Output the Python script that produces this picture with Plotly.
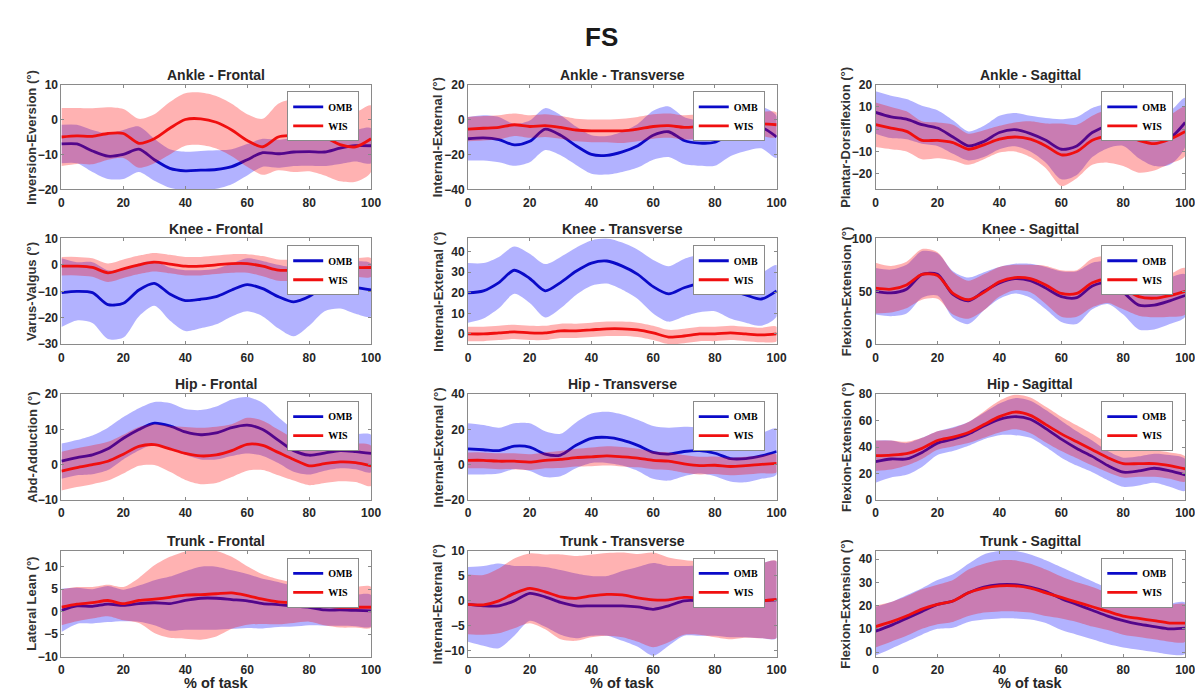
import plotly.graph_objects as go

W, H = 1203, 693
x_pct = list(range(0, 101, 5))

# ---------------- data (mean and SD at every 5 % of task) ----------------
# Ankle - Frontal
af_omb_mean = [-7, -7, -9, -10.5, -10, -8.5, -11.5, -14, -14.7, -14.5, -14.3, -13.5, -11.5, -9.5, -9.8, -9.3, -9.2, -9.3, -8.2, -7.5, -7.5]
af_omb_sd = [5.5, 5.5, 6, 6.5, 7, 6.5, 6, 5.5, 5.5, 5.5, 5.5, 5, 4.5, 4, 4, 4, 4, 4, 4.5, 4.5, 5]
af_wis_mean = [-5, -4.7, -4.8, -4, -4, -6.8, -5.5, -2.5, 0, 0.2, -0.8, -3, -6, -7.8, -5, -4.5, -3.8, -5, -7.2, -7.8, -5.5]
af_wis_sd = [8.3, 8, 8, 7.5, 7, 7, 7, 7.5, 7.5, 7.5, 7.5, 7.5, 7.5, 8, 9.5, 10.5, 11, 11, 10.5, 10, 9.5]
# Ankle - Transverse
at_omb_mean = [-11, -10.5, -11.5, -14.5, -12.5, -5.5, -9, -15, -20, -20.5, -18.5, -15, -9, -7, -12, -13.5, -13, -8, -5.5, -4.5, -10]
at_omb_sd = [12.5, 13, 13, 12, 12, 12, 11.5, 11, 11, 11, 11.5, 12.5, 14, 14.5, 13.5, 13, 13.5, 13, 12.5, 12, 12]
at_wis_mean = [-5.5, -5, -4.5, -3, -4, -3.5, -4.5, -6, -6.5, -6.5, -6.5, -5.5, -4, -3.5, -4.5, -4, -3.5, -3, -3, -2.5, -3]
at_wis_sd = [7, 7, 7, 6.5, 6.5, 6.5, 6.5, 6.5, 6.5, 6.5, 7, 7, 7, 7, 7, 7, 7, 7, 7, 7, 7]
# Ankle - Sagittal
as_omb_mean = [7.5, 5.5, 4.5, 2, 0.5, -3.5, -7.5, -5.5, -1.5, -0.2, -2, -5, -9, -7.5, -1.5, 1.5, 2.5, -2, -4.5, -4, 3]
as_omb_sd = [9.5, 9.5, 9, 8.5, 8, 7.5, 6.5, 7, 7.5, 7.5, 8, 10, 13.5, 13, 11, 10, 10, 11, 12, 12, 11]
as_wis_mean = [2, 0.5, -1, -5, -5, -6, -9, -7, -4.5, -3.5, -4.5, -7.5, -11.5, -10, -5, -3, -2.5, -5, -6.5, -4.5, -1]
as_wis_sd = [10, 9.5, 9, 8.5, 8, 8, 7, 6.5, 6, 6.5, 8, 10, 14, 12, 11, 12, 14, 14.5, 12, 11, 11]
# Knee - Frontal
kf_omb_mean = [-10.5, -10, -10.5, -15, -14.5, -9.5, -7, -11, -13.5, -13, -12, -9.5, -7.5, -9, -12, -14, -12, -8, -7, -8.5, -9.5]
kf_omb_sd = [13, 11, 11.5, 13, 13, 10, 8.5, 10, 11.5, 11, 10.5, 10, 10, 10.5, 12, 13, 11, 9.5, 9.5, 10, 10]
kf_wis_mean = [-0.5, -0.5, -1, -3, -1.5, 0, 1, 0.3, -0.5, -0.5, 0, 0.5, 0.5, -0.5, -2, -2, -1.5, -1, -0.5, -1, -1]
kf_wis_sd = [3.5, 3.5, 3.5, 3.5, 3.5, 3.5, 3.5, 3.5, 3.5, 3.5, 3.5, 3.5, 3.5, 3.8, 4, 4, 4, 3.8, 3.5, 3.5, 3.5]
# Knee - Transverse
kt_omb_mean = [20, 21, 25, 31, 27, 21, 25, 30.5, 34.5, 35.5, 33, 29, 23, 19.5, 22.5, 24.5, 25, 21.5, 19, 17, 21]
kt_omb_sd = [14.5, 13.5, 12.5, 11.5, 12, 13, 12.5, 11.5, 11, 11, 11.5, 12, 13, 13.5, 14, 14, 14, 14, 13.5, 13, 12.5]
kt_wis_mean = [0, 0, 0.5, 1, 0.5, 0.5, 1.5, 1.5, 2, 2.5, 2.5, 2, 0.5, -1.5, -1, 0, 0, 0.5, 0, -0.5, 0]
kt_wis_sd = [3.5, 3.5, 3.5, 3.5, 3.5, 3.5, 3.5, 3.5, 3.5, 3.5, 3.5, 3.5, 3.5, 3.5, 3.5, 3.5, 3.5, 3.5, 3.5, 3.5, 3.5]
# Knee - Sagittal
ks_omb_mean = [50, 48.5, 52, 66, 66, 47, 41, 50, 58, 62, 60, 53, 45, 44, 55, 58, 49, 37, 37, 41, 46]
ks_omb_sd = [22, 22, 23, 22, 20, 22, 22, 18, 15, 14, 16, 20, 24, 25, 22, 20, 21, 23, 23, 22, 20]
ks_wis_mean = [53, 52, 56, 66, 65, 48, 42, 49, 59, 63, 62, 56, 48, 48, 58, 61, 53, 45, 43.5, 46, 50]
ks_wis_sd = [24, 22, 22, 24, 22, 20, 18, 17, 14, 12, 13, 18, 22, 22, 23, 22, 20, 18, 18, 20, 22]
# Hip - Frontal
hf_omb_mean = [1, 2, 2.8, 4.5, 7.5, 10, 11.8, 11, 9.3, 8.5, 9, 10.5, 11.2, 10, 7, 4, 2.7, 3.3, 4, 3.7, 3.2]
hf_omb_sd = [5, 5, 5.5, 6, 6, 6, 6, 6.5, 6.5, 7, 7.5, 8, 8, 7.5, 6.5, 6, 5.5, 5, 5, 5, 5.3]
hf_wis_mean = [-1.8, -0.8, 0, 1, 3, 5.2, 5.7, 4.5, 3.2, 2.5, 2.8, 4, 5.8, 5.5, 3.5, 1.5, -0.3, 0.3, 0.8, 0.6, -0.3]
hf_wis_sd = [5.5, 5.5, 5.5, 5.5, 5.5, 5.5, 5.8, 6.5, 7.5, 8, 8, 7.5, 7.5, 7, 6.5, 6, 5.5, 5.5, 5.5, 5.5, 5.7]
# Hip - Transverse
ht_omb_mean = [9, 8.5, 8, 10.5, 10, 6, 5.5, 11, 15, 15.5, 14, 11, 7, 6, 7.5, 8, 6.5, 3.5, 3.5, 5, 7.5]
ht_omb_sd = [14.5, 14, 13, 13, 13.5, 13, 12, 13, 14, 14.5, 14.5, 14.5, 15, 15, 14, 13, 13, 13, 13.5, 13, 13]
ht_wis_mean = [2.5, 2.5, 2, 2, 1.5, 2.5, 3, 4, 4.5, 5, 4.5, 3.8, 2.5, 2, 0.5, -0.5, -0.3, -1, -0.5, 0.2, 0.8]
ht_wis_sd = [4.5, 4.5, 4.5, 4.5, 4.5, 4.5, 4.8, 5, 5.3, 5.5, 5.5, 5.3, 5, 5, 5, 5, 5, 5, 5, 5, 5]
# Hip - Sagittal
hs_omb_mean = [29, 31, 31, 36, 43, 46, 50, 56, 61, 63, 61, 54, 46, 39, 33, 26, 21, 22, 24, 22, 19]
hs_omb_sd = [16, 14, 12, 11, 9, 9, 9, 10, 12, 14, 14, 14, 14, 13, 12, 11, 11, 11, 11, 12, 12]
hs_wis_mean = [33.5, 34, 35, 39, 45, 47.5, 51, 57, 63, 66.5, 64, 57, 50, 44, 38, 32, 27.5, 27.5, 27.5, 26, 23.5]
hs_wis_sd = [11.5, 11, 9, 8, 7, 7, 8, 10, 12, 13, 13.5, 13.5, 13, 12.5, 12, 11, 10.5, 10, 10, 10, 9.5]
# Trunk - Frontal
tf_omb_mean = [0.3, 1.3, 1.2, 1.7, 1.4, 1.8, 2, 1.8, 2.5, 3, 3, 2.7, 2.4, 1.8, 1.6, 1.2, 1, 0.4, 0.4, 0.3, 0.2]
tf_omb_sd = [4.8, 4, 3.8, 4, 3.5, 4, 5, 6, 6.5, 7, 7, 6.5, 6, 5.5, 5, 4.5, 4, 3.5, 3.5, 3.5, 3.5]
tf_wis_mean = [1, 1.7, 2, 2.5, 1.8, 2.5, 2.8, 3.2, 3.7, 3.8, 4, 4.2, 3.6, 2.8, 2.2, 2, 2, 1.3, 1, 1, 1]
tf_wis_sd = [4, 3.8, 3.5, 3.5, 3.7, 5, 7.5, 9, 9.7, 10, 9.5, 8, 6.5, 5.5, 5, 4.5, 4.2, 4.3, 4.5, 4.5, 4.5]
# Trunk - Transverse
tt_omb_mean = [-0.7, -1, -1, 0, 1.5, 0.8, -0.3, -1, -1, -1, -1, -1.2, -1.7, -1, 0, 0, -0.5, -0.8, -0.3, 0, 0.2]
tt_omb_sd = [7.5, 8, 8.5, 7, 5.5, 6, 6.5, 6.5, 6, 6, 7, 8, 9.3, 8, 7, 7, 6.5, 6.5, 7, 7.5, 7.7]
tt_wis_mean = [-0.7, -0.8, 0, 1.5, 2.5, 1.8, 0.8, 0.5, 1, 1.3, 1.2, 0.6, 0.2, 0.2, 0.7, 0.5, -0.3, -0.7, -0.2, 0, 0.3]
tt_wis_sd = [6, 6, 6.5, 7, 7, 7.5, 8.5, 8.5, 8.3, 8.3, 8.5, 8.8, 9.5, 8.5, 7.5, 7.3, 7, 7, 7.2, 7.5, 7.7]
# Trunk - Sagittal
ts_omb_mean = [9, 11.5, 14.5, 17.5, 20.5, 22, 25.5, 28, 29, 29, 28, 26, 23, 20.5, 18, 15.5, 13.5, 12, 11, 10, 10.3]
ts_omb_sd = [10.5, 10, 10, 10, 10.5, 11.5, 12.5, 14, 14.5, 14.5, 14, 13.5, 13.5, 13, 12.5, 12, 11.5, 11, 11, 11, 11]
ts_wis_mean = [11, 13, 15.5, 18.5, 20.5, 22, 25.5, 27.5, 28.5, 28.5, 27.5, 25.5, 23.5, 21.5, 19.5, 17.5, 15.5, 14.5, 13.5, 12.5, 12.5]
ts_wis_sd = [9, 8.5, 8.5, 8.5, 8.5, 9, 10, 10.5, 11, 11, 10.5, 10, 9, 8.5, 8.5, 8, 8, 8, 8, 8, 8]

titles = ["Ankle - Frontal", "Ankle - Transverse", "Ankle - Sagittal",
          "Knee - Frontal", "Knee - Transverse", "Knee - Sagittal",
          "Hip - Frontal", "Hip - Transverse", "Hip - Sagittal",
          "Trunk - Frontal", "Trunk - Transverse", "Trunk - Sagittal"]
ylabels = ["Inversion-Eversion (°)", "Internal-External (°)", "Plantar-Dorsiflexion (°)",
           "Varus-Valgus (°)", "Internal-External (°)", "Flexion-Extension (°)",
           "Abd-Adduction (°)", "Internal-External (°)", "Flexion-Extension (°)",
           "Lateral Lean (°)", "Internal-External (°)", "Flexion-Extension (°)"]
yranges = [[-20, 10], [-40, 20], [-27, 20],
           [-30, 10], [-5, 46.5], [0, 100],
           [-10, 20], [-20, 40], [0, 80],
           [-10, 13.5], [-11.2, 10], [-2, 43.5]]
yticks = [[-20, -10, 0, 10], [-40, -20, 0, 20], [-20, -10, 0, 10, 20],
          [-30, -20, -10, 0, 10], [0, 10, 20, 30, 40], [0, 50, 100],
          [-10, 0, 10, 20], [-20, 0, 20, 40], [0, 20, 40, 60, 80],
          [-10, -5, 0, 5, 10], [-10, -5, 0, 5, 10], [0, 10, 20, 30, 40]]
xticks = [0, 20, 40, 60, 80, 100]
series_names = ["OMB", "WIS"]
xlabel = "% of task"
main_title = "FS"

panel_data = [
    (af_omb_mean, af_omb_sd, af_wis_mean, af_wis_sd),
    (at_omb_mean, at_omb_sd, at_wis_mean, at_wis_sd),
    (as_omb_mean, as_omb_sd, as_wis_mean, as_wis_sd),
    (kf_omb_mean, kf_omb_sd, kf_wis_mean, kf_wis_sd),
    (kt_omb_mean, kt_omb_sd, kt_wis_mean, kt_wis_sd),
    (ks_omb_mean, ks_omb_sd, ks_wis_mean, ks_wis_sd),
    (hf_omb_mean, hf_omb_sd, hf_wis_mean, hf_wis_sd),
    (ht_omb_mean, ht_omb_sd, ht_wis_mean, ht_wis_sd),
    (hs_omb_mean, hs_omb_sd, hs_wis_mean, hs_wis_sd),
    (tf_omb_mean, tf_omb_sd, tf_wis_mean, tf_wis_sd),
    (tt_omb_mean, tt_omb_sd, tt_wis_mean, tt_wis_sd),
    (ts_omb_mean, ts_omb_sd, ts_wis_mean, ts_wis_sd),
]

# ---------------- styling ----------------
col_px = [(51, 364), (462, 774), (874, 1187)]
row_px = [(71, 178), (228, 336), (387, 495), (547, 655)]
line_colors = ["rgb(10,10,200)", "rgb(240,15,15)"]
fill_colors = ["rgba(0,0,255,0.30)", "rgba(255,0,0,0.30)"]
SANS = "Liberation Sans, Arial, sans-serif"
SERIF = "Liberation Serif, Times New Roman, serif"

fig = go.Figure()
layout = dict(
    width=W, height=H, margin=dict(l=0, r=0, t=0, b=0),
    paper_bgcolor="white", plot_bgcolor="white",
    font=dict(family=SANS, color="#262626"),
    annotations=[],
)

for i, (title, ylab) in enumerate(zip(titles, ylabels)):
    r, c = divmod(i, 3)
    x0, x1 = col_px[c]
    y0, y1 = row_px[r]
    n = "" if i == 0 else str(i + 1)
    xa, ya = "x" + n, "y" + n
    leg = "legend" + n
    om, osd, wm, wsd = panel_data[i]
    for k, (m, s) in enumerate([(om, osd), (wm, wsd)]):
        up = [a + b for a, b in zip(m, s)]
        lo = [a - b for a, b in zip(m, s)]
        fig.add_trace(go.Scatter(
            x=x_pct + x_pct[::-1], y=up + lo[::-1], xaxis=xa, yaxis=ya,
            mode="lines", fill="toself", fillcolor=fill_colors[k],
            line=dict(width=0, shape="spline", smoothing=0.8),
            hoverinfo="skip", showlegend=False))
        fig.add_trace(go.Scatter(
            x=x_pct, y=m, xaxis=xa, yaxis=ya, mode="lines",
            line=dict(color=line_colors[k], width=2.8, shape="spline", smoothing=0.8),
            name=series_names[k], legend=leg, showlegend=True))

    axis_common = dict(
        showline=True, linecolor="#8a8a8a", linewidth=1, mirror="ticks",
        ticks="inside", ticklen=3, tickcolor="#8a8a8a", showgrid=False, zeroline=False,
        tickfont=dict(family=SANS, size=12, color="#262626", weight="bold"),
    )
    layout["xaxis" + n] = dict(
        axis_common, domain=[x0 / W, x1 / W], range=[0, 100], tickvals=xticks,
        anchor=ya, ticklabelstandoff=2)
    layout["yaxis" + n] = dict(
        axis_common, domain=[1 - y1 / H, 1 - y0 / H], range=yranges[i],
        tickvals=yticks[i], anchor=xa)
    layout[leg] = dict(
        x=(x1 - 12) / W, y=1 - (y0 + 7) / H, xanchor="right", yanchor="top",
        bgcolor="white", bordercolor="#8a8a8a", borderwidth=1,
        font=dict(family=SERIF, size=10, color="black", weight="bold"),
        tracegroupgap=0, itemwidth=30,
    )
    # subplot title
    layout["annotations"].append(dict(
        text="<b>%s</b>" % title, x=(x0 + x1) / 2 / W, y=1 - (y0 - 10) / H,
        xref="paper", yref="paper", xanchor="center", yanchor="middle",
        showarrow=False, font=dict(family=SANS, size=14, color="#262626")))
    # y-axis label
    layout["annotations"].append(dict(
        text="<b>%s</b>" % ylab, x=(x0 - 30) / W, y=1 - (y0 + y1) / 2 / H, textangle=-90,
        xref="paper", yref="paper", xanchor="center", yanchor="middle",
        showarrow=False, font=dict(family=SANS, size=13, color="#333333")))
    if r == 3:
        layout["annotations"].append(dict(
            text="<b>%s</b>" % xlabel, x=(x0 + x1) / 2 / W, y=1 - 682 / H,
            xref="paper", yref="paper", xanchor="center", yanchor="middle",
            showarrow=False, font=dict(family=SANS, size=14.5, color="#262626")))

layout["annotations"].append(dict(
    text="<b>%s</b>" % main_title, x=597 / W, y=1 - 22 / H,
    xref="paper", yref="paper", xanchor="center", yanchor="middle",
    showarrow=False, font=dict(family=SANS, size=26, color="#1a1a1a")))

fig.update_layout(**layout)
fig.write_html("out.html")
